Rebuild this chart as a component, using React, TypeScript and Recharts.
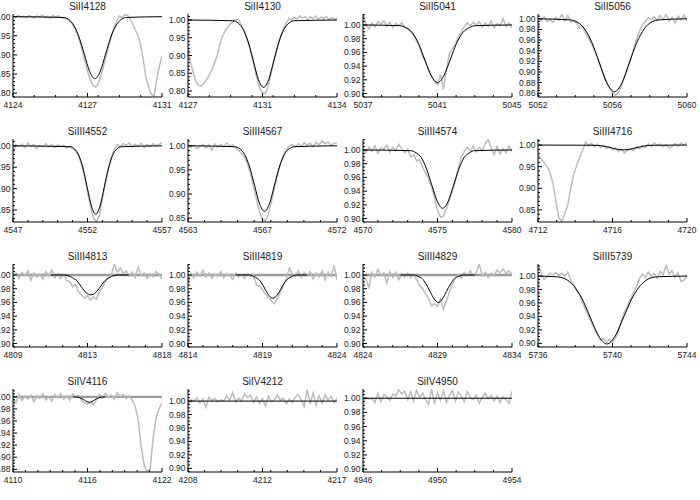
import React from "react";
import { LineChart, Line, XAxis, YAxis, ReferenceLine } from "recharts";

// observed flux, evenly sampled from the panel's start wavelength
const obs4128 = [1.003, 0.998, 1.004, 0.999, 1.001, 0.997, 1.003, 1.0, 0.996, 1.002, 0.998, 1.004, 0.997, 1.001, 0.996, 1.003, 0.999, 1.002, 0.998, 0.996, 0.996, 0.99, 0.983, 0.972, 0.957, 0.937, 0.912, 0.885, 0.858, 0.836, 0.82, 0.816, 0.824, 0.845, 0.87, 0.898, 0.925, 0.95, 0.972, 0.989, 1.002, 0.998, 1.005, 1.004, 0.995, 0.982, 0.965, 0.95, 0.925, 0.885, 0.84, 0.815, 0.798, 0.792, 0.835, 0.87, 0.898];
const obs4130 = [0.92, 0.88, 0.85, 0.825, 0.815, 0.814, 0.822, 0.832, 0.845, 0.86, 0.88, 0.9, 0.932, 0.955, 0.97, 0.98, 0.99, 0.996, 1.0, 1.002, 0.985, 0.972, 0.95, 0.927, 0.898, 0.865, 0.833, 0.808, 0.795, 0.792, 0.81, 0.842, 0.875, 0.905, 0.934, 0.96, 0.978, 0.992, 1.004, 1.0, 1.008, 1.003, 1.012, 1.005, 1.01, 1.001, 1.009, 1.004, 1.011, 1.002, 1.008, 1.003, 1.01, 1.001, 1.007, 1.002, 1.006];
const obs5041 = [1.015, 1.002, 0.994, 1.003, 0.997, 1.005, 1.001, 1.006, 0.998, 1.004, 0.996, 1.002, 0.999, 1.003, 0.997, 0.995, 0.99, 0.985, 0.976, 0.968, 0.955, 0.946, 0.935, 0.926, 0.918, 0.913, 0.928, 0.906, 0.935, 0.958, 0.966, 0.972, 0.983, 0.99, 0.998, 1.003, 0.999, 1.004, 1.0, 1.005, 0.997, 1.003, 0.998, 1.006, 0.996, 1.002, 0.999, 1.009, 0.998, 1.003, 0.996];
const obs5056 = [1.0, 0.996, 1.004, 0.995, 0.999, 0.993, 1.003, 0.997, 1.008, 0.996, 1.006, 0.994, 0.996, 0.992, 0.983, 0.985, 0.972, 0.963, 0.952, 0.94, 0.926, 0.91, 0.895, 0.882, 0.871, 0.862, 0.856, 0.862, 0.874, 0.89, 0.905, 0.922, 0.942, 0.96, 0.976, 0.988, 0.995, 1.002, 0.998, 1.004, 0.997, 1.006, 0.999, 1.008, 0.996, 1.003, 0.992, 1.005, 0.998, 1.007, 0.995];
const obs4552 = [0.985, 1.002, 0.998, 1.004, 0.996, 1.006, 0.999, 1.003, 0.993, 1.001, 0.997, 1.005, 0.998, 1.003, 0.996, 1.002, 0.999, 1.001, 0.995, 0.999, 0.994, 0.988, 0.976, 0.957, 0.928, 0.893, 0.858, 0.832, 0.822, 0.838, 0.876, 0.913, 0.946, 0.974, 0.992, 1.003, 0.998, 1.005, 1.001, 1.007, 0.997, 1.004, 0.999, 1.006, 0.996, 1.003, 0.998, 1.005, 1.0, 1.003, 1.008];
const obs4567 = [1.002, 0.996, 1.001, 0.994, 0.998, 1.003, 0.995, 1.002, 0.991, 1.004, 0.997, 1.003, 0.998, 1.006, 0.999, 1.002, 0.996, 0.99, 0.984, 0.976, 0.962, 0.942, 0.916, 0.888, 0.862, 0.847, 0.845, 0.858, 0.885, 0.913, 0.94, 0.962, 0.98, 0.992, 1.0, 1.003, 0.998, 1.004, 0.999, 1.006, 1.001, 1.005, 0.998, 1.007, 1.002, 1.01, 1.004, 1.008, 1.001, 1.005, 1.007];
const obs4574 = [1.002, 0.996, 1.004, 0.998, 1.006, 0.995, 1.003, 1.001, 1.007, 0.997, 1.004, 0.999, 1.008, 1.002, 0.996, 1.001, 0.99, 0.993, 0.984, 0.986, 0.975, 0.966, 0.958, 0.946, 0.93, 0.912, 0.902, 0.904, 0.915, 0.927, 0.94, 0.955, 0.974, 0.99, 0.998, 1.004, 0.998, 1.006, 0.997, 1.004, 0.999, 1.009, 1.016, 1.003, 0.993, 1.005, 0.994, 1.002, 0.996, 1.006, 0.998];
const obs4716 = [0.978, 0.968, 0.96, 0.95, 0.937, 0.912, 0.87, 0.832, 0.822, 0.842, 0.862, 0.9, 0.933, 0.953, 0.972, 0.988, 1.007, 0.998, 1.004, 0.996, 1.002, 0.994, 0.999, 0.992, 0.996, 0.989, 0.993, 0.985, 0.99, 0.982, 0.988, 0.991, 0.987, 0.995, 0.992, 0.998, 0.994, 1.003, 0.997, 1.005, 0.999, 1.002, 0.996, 1.001, 0.993, 0.997, 1.003, 0.998, 1.005, 1.0, 1.006];
const obs4813 = [0.998, 1.003, 0.995, 1.004, 0.999, 1.006, 0.992, 1.003, 0.997, 1.001, 0.994, 1.005, 0.998, 1.007, 0.996, 1.002, 0.995, 1.001, 0.992, 0.99, 0.983, 0.986, 0.975, 0.971, 0.966, 0.97, 0.963, 0.968, 0.965, 0.976, 0.982, 0.99, 0.996, 1.0, 1.016, 1.004, 1.01, 1.002, 1.006, 0.998, 1.004, 0.996, 1.012, 0.999, 1.003, 0.995, 1.002, 0.997, 1.005, 1.001, 0.994];
const obs4819 = [0.99, 1.002, 0.996, 1.004, 0.998, 1.007, 0.997, 1.003, 0.995, 1.001, 0.998, 1.005, 0.996, 1.002, 0.999, 0.994, 1.003, 0.997, 1.001, 0.995, 1.002, 0.998, 1.0, 0.985, 0.984, 0.978, 0.972, 0.967, 0.962, 0.958, 0.966, 0.975, 0.985, 0.994, 1.01, 1.002, 0.998, 1.006, 0.996, 1.004, 0.999, 1.005, 0.994, 1.003, 0.997, 1.006, 0.993, 1.004, 0.998, 1.014, 0.992];
const obs4829 = [0.999, 0.993, 0.982, 1.004, 0.997, 1.008, 0.999, 1.003, 0.988, 1.005, 0.996, 1.004, 0.993, 1.002, 0.997, 1.003, 0.996, 1.001, 0.993, 0.985, 0.98, 0.972, 0.966, 0.955, 0.958, 0.954, 0.965, 0.95, 0.962, 0.975, 0.986, 0.996, 1.001, 0.995, 1.004, 0.998, 1.006, 0.999, 1.003, 1.016, 0.999, 1.004, 0.996, 1.003, 0.999, 1.007, 1.003, 1.009, 1.002, 1.006, 1.001];
const obs5739 = [1.016, 1.006, 0.995, 0.998, 1.004, 1.002, 1.005, 1.001, 1.004, 1.0, 1.006, 0.994, 0.988, 0.978, 0.972, 0.96, 0.95, 0.94, 0.93, 0.921, 0.913, 0.905, 0.907, 0.902, 0.906, 0.901, 0.908, 0.918, 0.935, 0.946, 0.955, 0.966, 0.975, 0.984, 0.996, 1.003, 0.998, 1.006, 0.999, 1.004, 0.997, 1.007, 1.002, 1.016, 1.003, 1.008, 0.998, 1.005, 0.992, 0.994, 1.002];
const obs4116 = [0.998, 0.99, 1.004, 0.994, 1.001, 0.996, 1.003, 0.992, 1.002, 0.997, 1.005, 0.995, 1.0, 0.993, 1.004, 0.998, 1.006, 0.996, 1.002, 0.994, 1.005, 0.999, 1.003, 0.994, 0.99, 0.988, 0.992, 0.987, 0.995, 1.004, 0.998, 1.006, 0.999, 1.003, 0.996, 1.007, 1.0, 1.004, 0.997, 1.002, 0.994, 0.985, 0.962, 0.918, 0.888, 0.876, 0.88, 0.93, 0.965, 0.98, 0.99];
const obs4212 = [0.995, 1.002, 1.0, 1.005, 0.997, 1.003, 0.991, 1.006, 1.001, 1.004, 0.999, 1.002, 1.0, 1.008, 1.001, 1.013, 0.999, 1.004, 1.0, 1.011, 1.005, 1.009, 0.998, 1.006, 0.997, 1.004, 0.993, 1.007, 0.999, 1.002, 1.009, 1.001, 1.004, 0.996, 1.003, 0.998, 1.006, 1.01, 1.002, 0.992, 1.017, 0.996, 1.012, 0.994, 1.008, 0.997, 1.009, 1.001, 1.007, 0.998, 1.004];
const obs4950 = [0.993, 1.001, 0.999, 1.0, 0.994, 1.007, 0.995, 1.005, 1.002, 0.997, 1.006, 1.003, 1.012, 1.006, 1.01, 0.998, 1.009, 0.996, 1.011, 1.001, 1.007, 0.998, 0.991, 1.013, 0.992, 1.008, 0.997, 1.01, 0.994, 1.004, 1.011, 0.996, 1.009, 1.003, 0.995, 1.009, 1.001, 0.998, 1.004, 0.993, 1.001, 1.007, 0.999, 1.004, 0.996, 1.003, 0.994, 1.002, 0.998, 0.993, 1.01];

// model profiles (wavelength, flux)
const model4128X = [4124, 4126.35, 4126.6, 4126.85, 4127.1, 4127.35, 4127.6, 4127.85, 4128.1, 4128.35, 4128.6, 4128.85, 4129.1, 4129.35, 4131];
const model4128Y = [1, 0.998, 0.993, 0.978, 0.947, 0.902, 0.857, 0.838, 0.857, 0.902, 0.947, 0.978, 0.993, 0.998, 1];
const model4130X = [4127, 4129.11, 4129.35, 4129.59, 4129.83, 4130.07, 4130.31, 4130.55, 4130.79, 4131.03, 4131.27, 4131.51, 4131.75, 4131.99, 4134];
const model4130Y = [1, 0.998, 0.992, 0.974, 0.938, 0.885, 0.832, 0.81, 0.832, 0.885, 0.938, 0.974, 0.992, 0.998, 1];
const model5041X = [5037, 5038.96, 5039.3, 5039.64, 5039.98, 5040.32, 5040.66, 5041.0, 5041.34, 5041.68, 5042.02, 5042.36, 5042.7, 5043.04, 5045];
const model5041Y = [1, 0.999, 0.996, 0.989, 0.973, 0.949, 0.926, 0.916, 0.926, 0.949, 0.973, 0.989, 0.996, 0.999, 1];
const model5056X = [5052, 5053.7, 5054.1, 5054.5, 5054.9, 5055.3, 5055.7, 5056.1, 5056.5, 5056.9, 5057.3, 5057.7, 5058.1, 5058.5, 5060];
const model5056Y = [1, 0.998, 0.994, 0.981, 0.955, 0.917, 0.879, 0.863, 0.879, 0.917, 0.955, 0.981, 0.994, 0.998, 1];
const model4552X = [4547, 4550.84, 4551.13, 4551.41, 4551.7, 4551.98, 4552.27, 4552.55, 4552.84, 4553.12, 4553.41, 4553.69, 4553.98, 4554.26, 4557];
const model4552Y = [1, 0.998, 0.993, 0.978, 0.948, 0.903, 0.859, 0.84, 0.859, 0.903, 0.948, 0.978, 0.993, 0.998, 1];
const model4567X = [4563, 4565.82, 4566.12, 4566.42, 4566.72, 4567.02, 4567.32, 4567.62, 4567.92, 4568.22, 4568.52, 4568.82, 4569.12, 4569.42, 4572];
const model4567Y = [1, 0.998, 0.994, 0.982, 0.956, 0.918, 0.88, 0.864, 0.88, 0.918, 0.956, 0.982, 0.994, 0.998, 1];
const model4574X = [4570, 4573.19, 4573.55, 4573.91, 4574.27, 4574.63, 4574.99, 4575.35, 4575.71, 4576.07, 4576.43, 4576.79, 4577.15, 4577.51, 4580];
const model4574Y = [1, 0.999, 0.996, 0.989, 0.972, 0.948, 0.925, 0.915, 0.925, 0.948, 0.972, 0.989, 0.996, 0.999, 1];
const model4716X = [4712, 4715.0, 4715.4, 4715.7, 4716.0, 4716.3, 4716.6, 4716.9, 4717.2, 4717.5, 4717.8, 4718.2, 4720];
const model4716Y = [1, 0.9995, 0.9985, 0.996, 0.993, 0.99, 0.989, 0.99, 0.993, 0.996, 0.9985, 0.9995, 1];
const model4813X = [4811.3, 4812.05, 4812.33, 4812.6, 4812.88, 4813.15, 4813.43, 4813.7, 4813.98, 4814.25, 4814.53, 4814.8, 4815.08, 4815.35, 4816.0];
const model4813Y = [1, 1, 0.999, 0.996, 0.991, 0.982, 0.974, 0.971, 0.974, 0.982, 0.991, 0.996, 0.999, 1, 1];
const model4819X = [4817.2, 4818.14, 4818.4, 4818.66, 4818.92, 4819.18, 4819.44, 4819.7, 4819.96, 4820.22, 4820.48, 4820.74, 4821.0, 4821.26, 4822.0];
const model4819Y = [1, 1, 0.998, 0.995, 0.989, 0.979, 0.97, 0.966, 0.97, 0.979, 0.989, 0.995, 0.998, 1, 1];
const model4829X = [4826.5, 4827.4, 4827.68, 4827.95, 4828.23, 4828.5, 4828.78, 4829.05, 4829.33, 4829.6, 4829.88, 4830.15, 4830.43, 4830.7, 4831.5];
const model4829Y = [1, 1, 0.998, 0.995, 0.987, 0.976, 0.965, 0.96, 0.965, 0.976, 0.987, 0.995, 0.998, 1, 1];
const model5739X = [5736, 5737.0, 5737.45, 5737.9, 5738.35, 5738.8, 5739.25, 5739.7, 5740.15, 5740.6, 5741.05, 5741.5, 5741.95, 5742.4, 5744];
const model5739Y = [1, 0.999, 0.996, 0.986, 0.967, 0.939, 0.911, 0.899, 0.911, 0.939, 0.967, 0.986, 0.996, 0.999, 1];
const model4116X = [4114.9, 4115.15, 4115.35, 4115.55, 4115.75, 4115.95, 4116.15, 4116.35, 4116.55, 4116.75, 4116.95, 4117.15, 4117.4];
const model4116Y = [1, 0.9996, 0.9988, 0.997, 0.9945, 0.992, 0.991, 0.992, 0.9945, 0.997, 0.9988, 0.9996, 1];
const model4212X = [4208, 4217];
const model4212Y = [1, 1];
const model4950X = [4946, 4954];
const model4950Y = [1, 1];

// y tick values
const yTicks05a = [0.8, 0.85, 0.9, 0.95, 1.0];
const yTicks05b = [0.85, 0.9, 0.95, 1.0];
const yTicks02 = [0.9, 0.92, 0.94, 0.96, 0.98, 1.0];
const yTicks02b = [0.86, 0.88, 0.9, 0.92, 0.94, 0.96, 0.98, 1.0];
const yTicks02c = [0.88, 0.9, 0.92, 0.94, 0.96, 0.98, 1.0];

type Panel = {
  title: string;
  x: [number, number];
  xLabels: string[];
  y: [number, number];
  yTicks: number[];
  yMinor: number;
  start: number;
  step: number;
  obs: number[];
  mx: number[];
  my: number[];
  continuum?: boolean;
};

const panels: Panel[] = [
  { title: "SiII4128", x: [4124, 4131], xLabels: ["4124", "4127", "4131"], y: [0.79, 1.007], yTicks: yTicks05a, yMinor: 0.01, start: 4124, step: 0.125, obs: obs4128, mx: model4128X, my: model4128Y },
  { title: "SiII4130", x: [4127, 4134], xLabels: ["4127", "4131", "4134"], y: [0.783, 1.017], yTicks: yTicks05a, yMinor: 0.01, start: 4127, step: 0.125, obs: obs4130, mx: model4130X, my: model4130Y },
  { title: "SiII5041", x: [5037, 5045], xLabels: ["5037", "5041", "5045"], y: [0.895, 1.016], yTicks: yTicks02, yMinor: 0.005, start: 5037, step: 0.16, obs: obs5041, mx: model5041X, my: model5041Y },
  { title: "SiII5056", x: [5052, 5060], xLabels: ["5052", "5056", "5060"], y: [0.853, 1.009], yTicks: yTicks02b, yMinor: 0.005, start: 5052, step: 0.16, obs: obs5056, mx: model5056X, my: model5056Y },
  { title: "SiIII4552", x: [4547, 4557], xLabels: ["4547", "4552", "4557"], y: [0.822, 1.016], yTicks: yTicks05b, yMinor: 0.01, start: 4547, step: 0.2, obs: obs4552, mx: model4552X, my: model4552Y },
  { title: "SiIII4567", x: [4563, 4572], xLabels: ["4563", "4567", "4572"], y: [0.842, 1.014], yTicks: yTicks05b, yMinor: 0.01, start: 4563, step: 0.18, obs: obs4567, mx: model4567X, my: model4567Y },
  { title: "SiIII4574", x: [4570, 4580], xLabels: ["4570", "4575", "4580"], y: [0.895, 1.016], yTicks: yTicks02, yMinor: 0.005, start: 4570, step: 0.2, obs: obs4574, mx: model4574X, my: model4574Y },
  { title: "SiIII4716", x: [4712, 4720], xLabels: ["4712", "4716", "4720"], y: [0.822, 1.014], yTicks: yTicks05b, yMinor: 0.01, start: 4712, step: 0.16, obs: obs4716, mx: model4716X, my: model4716Y },
  { title: "SiIII4813", x: [4809, 4818], xLabels: ["4809", "4813", "4818"], y: [0.895, 1.016], yTicks: yTicks02, yMinor: 0.005, start: 4809, step: 0.18, obs: obs4813, mx: model4813X, my: model4813Y, continuum: true },
  { title: "SiIII4819", x: [4814, 4824], xLabels: ["4814", "4819", "4824"], y: [0.895, 1.016], yTicks: yTicks02, yMinor: 0.005, start: 4814, step: 0.2, obs: obs4819, mx: model4819X, my: model4819Y, continuum: true },
  { title: "SiIII4829", x: [4824, 4834], xLabels: ["4824", "4829", "4834"], y: [0.895, 1.016], yTicks: yTicks02, yMinor: 0.005, start: 4824, step: 0.2, obs: obs4829, mx: model4829X, my: model4829Y, continuum: true },
  { title: "SiIII5739", x: [5736, 5744], xLabels: ["5736", "5740", "5744"], y: [0.8945, 1.018], yTicks: yTicks02, yMinor: 0.005, start: 5736, step: 0.16, obs: obs5739, mx: model5739X, my: model5739Y },
  { title: "SiIV4116", x: [4110, 4122], xLabels: ["4110", "4116", "4122"], y: [0.8755, 1.013], yTicks: yTicks02c, yMinor: 0.005, start: 4110, step: 0.24, obs: obs4116, mx: model4116X, my: model4116Y, continuum: true },
  { title: "SiIV4212", x: [4208, 4217], xLabels: ["4208", "4212", "4217"], y: [0.8945, 1.018], yTicks: yTicks02, yMinor: 0.005, start: 4208, step: 0.18, obs: obs4212, mx: model4212X, my: model4212Y },
  { title: "SiIV4950", x: [4946, 4954], xLabels: ["4946", "4950", "4954"], y: [0.896, 1.013], yTicks: yTicks02, yMinor: 0.005, start: 4946, step: 0.16, obs: obs4950, mx: model4950X, my: model4950Y },
];

const BOX_W = 149;
const BOX_H = 83;
const PAD_L = 35;
const PAD_T = 14;
const PAD_R = 14;
const PAD_B = 14;
const FONT = "'Liberation Sans', Arial, Helvetica, sans-serif";
const INK = "#222";

const stepsIn = (lo: number, hi: number, step: number) => {
  const out: number[] = [];
  for (let n = Math.ceil(lo / step - 1e-9); n * step <= hi + 1e-9; n++) out.push(+(n * step).toFixed(4));
  return out;
};

const merge = (a: number[], b: number[]) => {
  const all = [...a];
  b.forEach((v) => {
    if (!all.some((w) => Math.abs(w - v) < 1e-6)) all.push(v);
  });
  return all.sort((p, q) => p - q);
};

type Side = "bottom" | "top" | "left" | "right";

const tickRenderer = (side: Side, majors: number[], labels?: string[]) => (props: any) => {
  const { x, y, payload } = props;
  const v = payload.value;
  const idx = majors.findIndex((m) => Math.abs(m - v) < 1e-6);
  const len = idx >= 0 ? 4 : 2;
  let tick;
  if (side === "bottom") tick = <line x1={x} y1={y} x2={x} y2={y - len} stroke="#000" />;
  else if (side === "top") tick = <line x1={x} y1={y} x2={x} y2={y + len} stroke="#000" />;
  else if (side === "left") tick = <line x1={x} y1={y} x2={x + len} y2={y} stroke="#000" />;
  else tick = <line x1={x} y1={y} x2={x - len} y2={y} stroke="#000" />;
  let label = null;
  if (idx >= 0 && side === "bottom" && labels) {
    label = (
      <text x={x} y={y + 11.3} textAnchor="middle" fontSize={8.5} fontFamily={FONT} fill={INK}>
        {labels[idx]}
      </text>
    );
  }
  if (idx >= 0 && side === "left") {
    label = (
      <text x={x - 2.5} y={y + 3} textAnchor="end" fontSize={8.5} fontFamily={FONT} fill={INK}>
        {v.toFixed(2)}
      </text>
    );
  }
  return (
    <g>
      {tick}
      {label}
    </g>
  );
};

const SpectrumPanel = ({ p, index }: { p: Panel; index: number }) => {
  const col = index % 4;
  const row = Math.floor(index / 4);
  const boxLeft = 13 + col * 175;
  const boxTop = 14 + row * 125;
  const obsData = p.obs.map((v, i) => ({ x: p.start + i * p.step, y: v }));
  const modelData = p.mx.map((x, i) => ({ x, y: p.my[i] }));
  const xMajors = [p.x[0], (p.x[0] + p.x[1]) / 2, p.x[1]];
  const xTicks = merge(stepsIn(p.x[0], p.x[1], 1), xMajors);
  const yTicks = merge(stepsIn(p.y[0], p.y[1], p.yMinor), p.yTicks);
  const common = {
    type: "number" as const,
    allowDataOverflow: true,
    interval: 0 as const,
    tickSize: 0,
    tickMargin: 0,
    tickLine: false,
    axisLine: { stroke: "#000", strokeWidth: 1 },
  };
  return (
    <>
      <div
        style={{
          position: "absolute",
          left: boxLeft,
          top: boxTop - 12,
          width: BOX_W,
          textAlign: "center",
          fontFamily: FONT,
          fontSize: 10,
          lineHeight: "10px",
          color: INK,
        }}
      >
        {p.title}
      </div>
      <div style={{ position: "absolute", left: boxLeft - PAD_L, top: boxTop - PAD_T }}>
        <LineChart
          width={PAD_L + BOX_W + PAD_R}
          height={PAD_T + BOX_H + PAD_B}
          margin={{ top: PAD_T, right: PAD_R, bottom: 0, left: 0 }}
        >
          <XAxis {...common} xAxisId="b" dataKey="x" domain={p.x} ticks={xTicks} height={PAD_B} tick={tickRenderer("bottom", xMajors, p.xLabels)} />
          <XAxis {...common} xAxisId="t" orientation="top" dataKey="x" domain={p.x} ticks={xTicks} height={0} tick={tickRenderer("top", xMajors)} />
          <YAxis {...common} yAxisId="l" domain={p.y} ticks={yTicks} width={PAD_L} tick={tickRenderer("left", p.yTicks)} />
          <YAxis {...common} yAxisId="r" orientation="right" domain={p.y} ticks={yTicks} width={0} tick={tickRenderer("right", p.yTicks)} />
          {p.continuum && (
            <ReferenceLine xAxisId="b" yAxisId="l" y={1} stroke="#9a9a9a" strokeWidth={2.4} />
          )}
          <Line
            xAxisId="b"
            yAxisId="l"
            data={obsData}
            dataKey="y"
            type="linear"
            stroke="#bcbcbc"
            strokeWidth={1.5}
            dot={false}
            activeDot={false}
            isAnimationActive={false}
          />
          <Line
            xAxisId="b"
            yAxisId="l"
            data={modelData}
            dataKey="y"
            type="monotone"
            stroke="#000"
            strokeWidth={1}
            dot={false}
            activeDot={false}
            isAnimationActive={false}
          />
          <Line
            xAxisId="t"
            yAxisId="r"
            data={modelData}
            dataKey="y"
            stroke="none"
            dot={false}
            activeDot={false}
            isAnimationActive={false}
          />
        </LineChart>
      </div>
    </>
  );
};

export default function App() {
  return (
    <div
      style={{
        position: "absolute",
        left: 0,
        top: 0,
        width: 700,
        height: 500,
        overflow: "hidden",
        background: "#fff",
      }}
    >
      {panels.map((p, i) => (
        <SpectrumPanel key={p.title} p={p} index={i} />
      ))}
    </div>
  );
}
